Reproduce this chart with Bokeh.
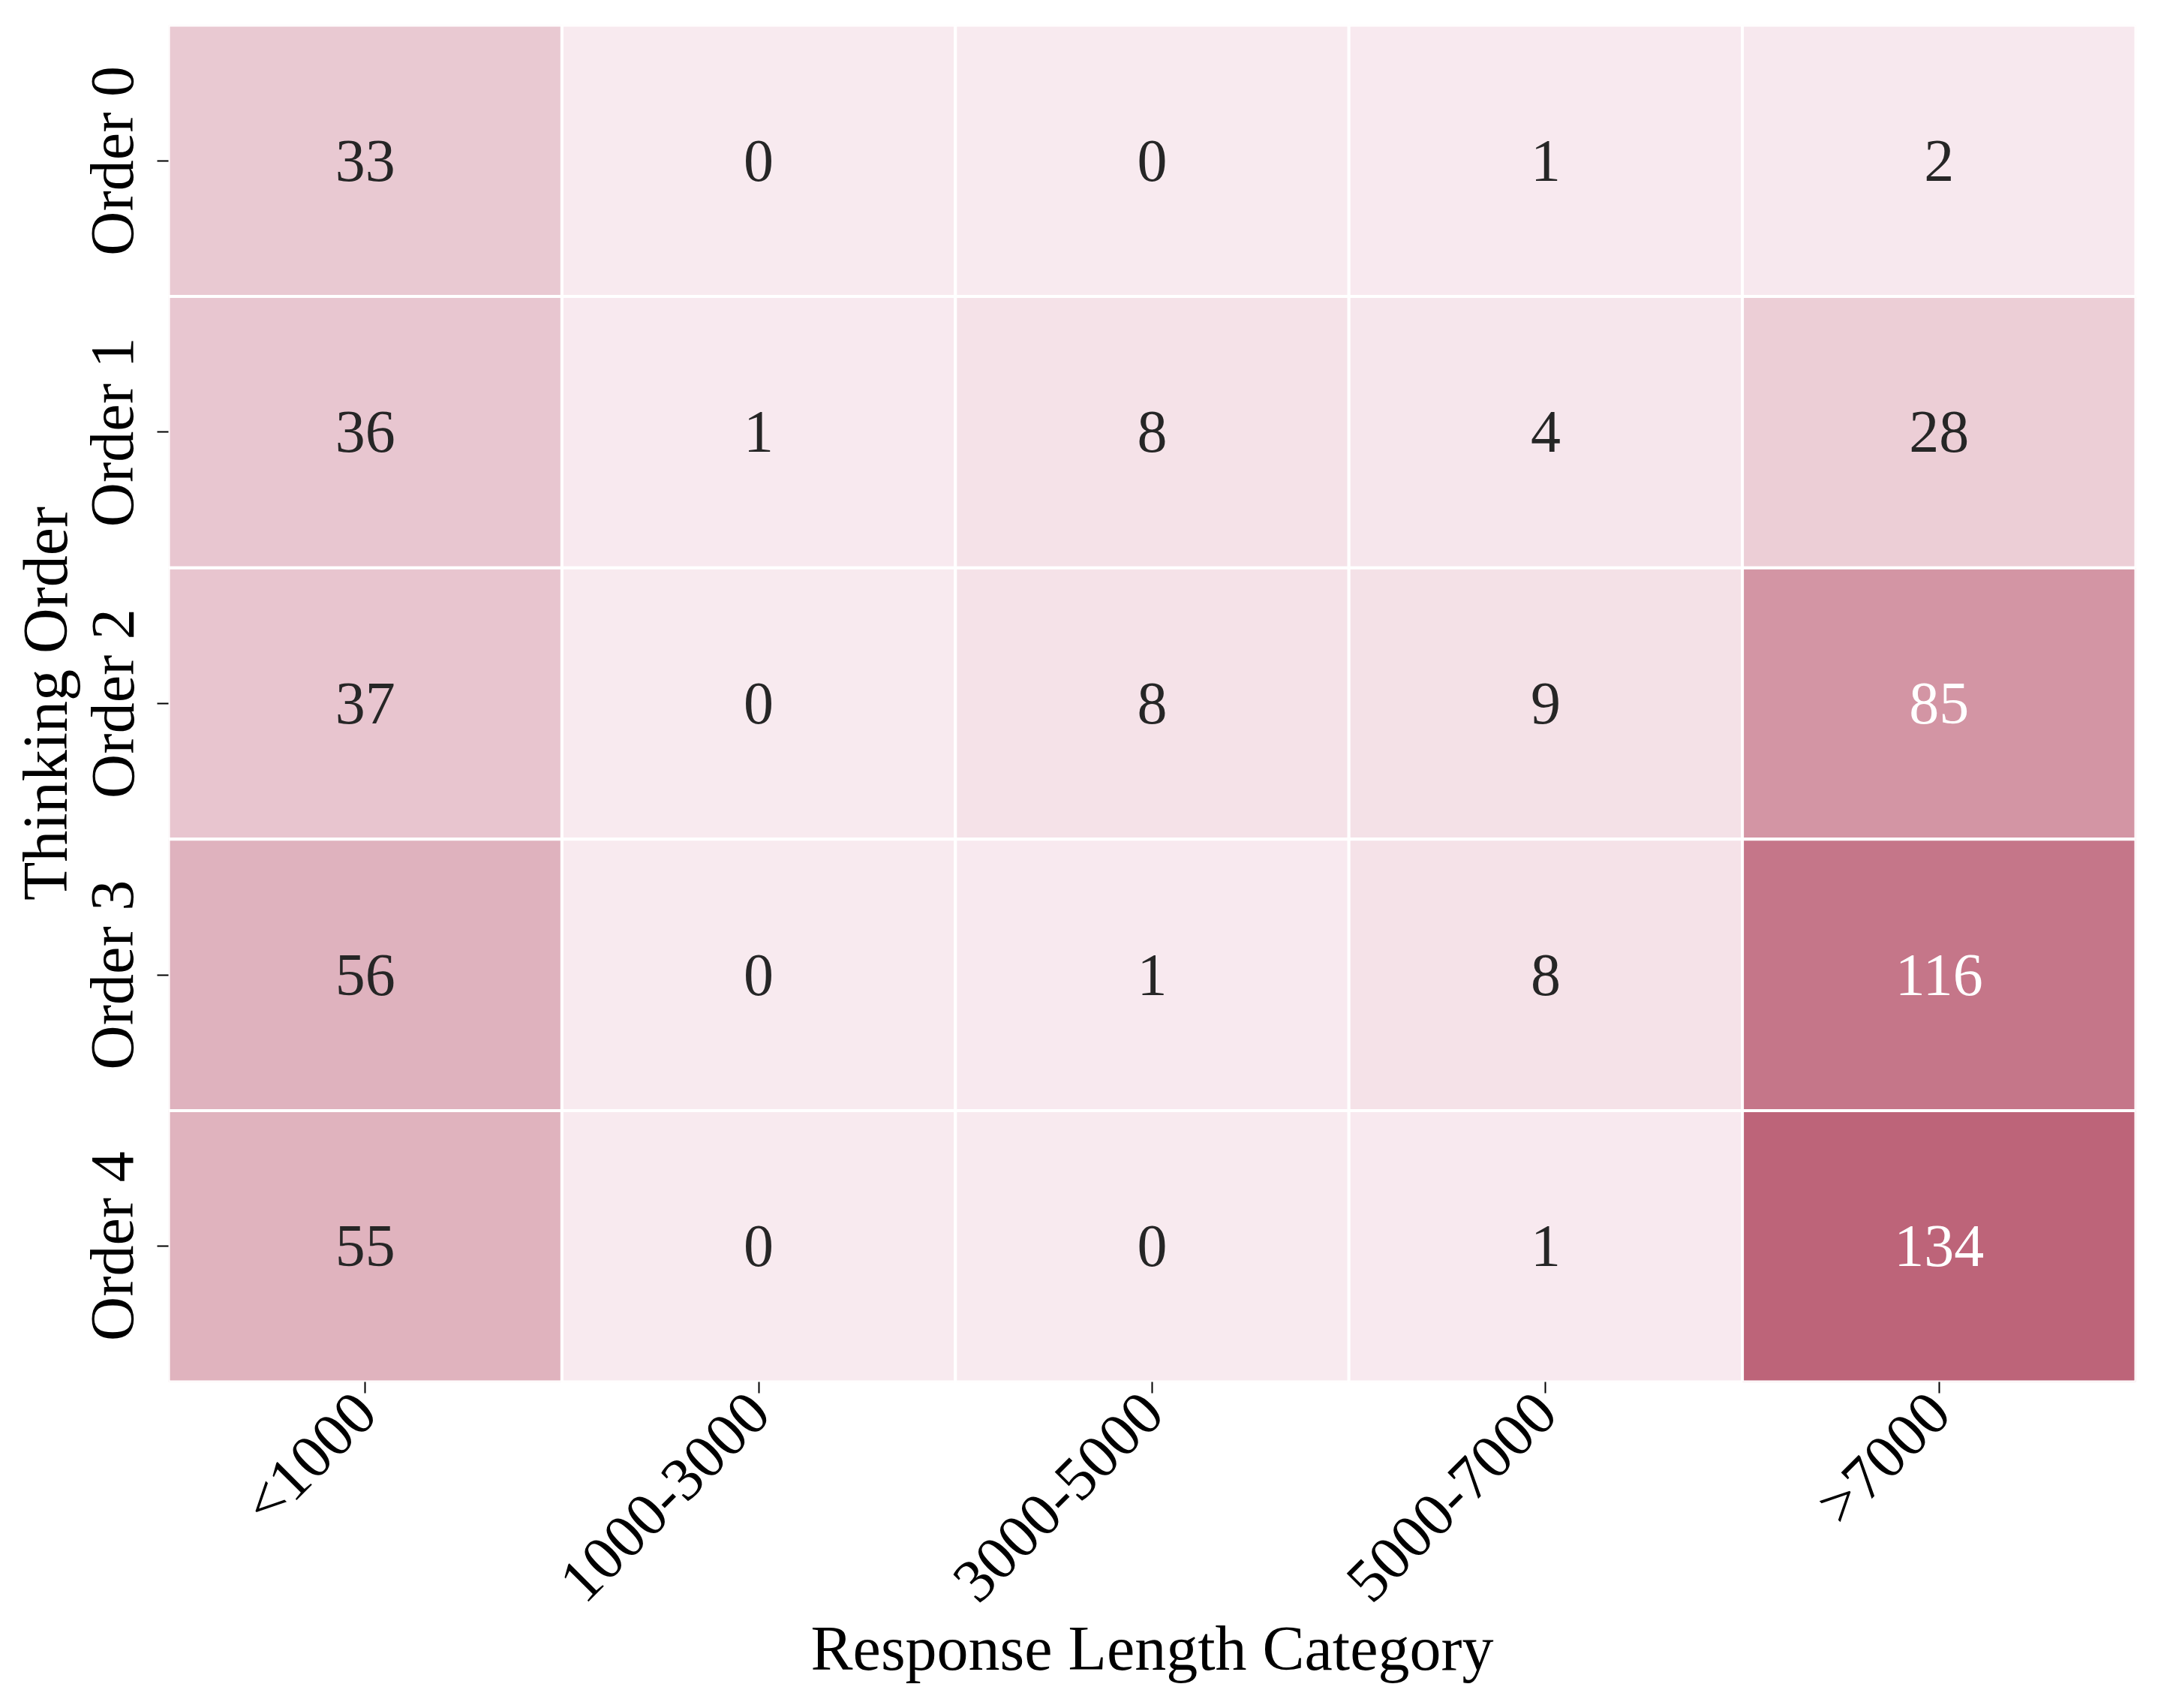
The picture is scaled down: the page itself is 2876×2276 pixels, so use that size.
import numpy as np
from bokeh.plotting import figure
from bokeh.models import ColumnDataSource, LinearColorMapper, FactorRange
from bokeh.transform import transform
from bokeh.core.properties import value
from bokeh.embed import file_html
from bokeh.resources import INLINE

# ---- data ----
length_categories = ["<1000", "1000-3000", "3000-5000", "5000-7000", ">7000"]
thinking_orders = ["Order 0", "Order 1", "Order 2", "Order 3", "Order 4"]
order0 = [33, 0, 0, 1, 2]
order1 = [36, 1, 8, 4, 28]
order2 = [37, 0, 8, 9, 85]
order3 = [56, 0, 1, 8, 116]
order4 = [55, 0, 0, 1, 134]
rows = [order0, order1, order2, order3, order4]

# ---- colour palette (light pink -> dusty rose) ----
low_rgb = np.array([248, 234, 239])
high_rgb = np.array([189, 100, 121])
palette = []
for t in np.linspace(0, 1, 256):
    c = low_rgb + (high_rgb - low_rgb) * t
    palette.append("#%02x%02x%02x" % tuple(int(round(v)) for v in c))

all_vals = [v for r in rows for v in r]
vmin, vmax = min(all_vals), max(all_vals)
mapper = LinearColorMapper(palette=palette, low=vmin, high=vmax)

xs, ys, vals, labels, tcolors = [], [], [], [], []
for order, r in zip(thinking_orders, rows):
    for cat, v in zip(length_categories, r):
        xs.append(cat)
        ys.append(order)
        vals.append(v)
        labels.append(str(v))
        idx = int(round((v - vmin) / (vmax - vmin) * 255))
        col = palette[idx]
        rgb = [int(col[i:i + 2], 16) / 255 for i in (1, 3, 5)]
        lin = [c / 12.92 if c <= 0.03928 else ((c + 0.055) / 1.055) ** 2.4 for c in rgb]
        lum = 0.2126 * lin[0] + 0.7152 * lin[1] + 0.0722 * lin[2]
        tcolors.append("#262626" if lum > 0.408 else "white")

src = ColumnDataSource(dict(x=xs, y=ys, v=vals, label=labels, tc=tcolors))

p = figure(
    width=2860, height=2260,
    x_range=FactorRange(*length_categories),
    y_range=FactorRange(*reversed(thinking_orders)),
    output_backend="svg", toolbar_location=None,
    min_border_left=224, min_border_right=14,
    min_border_top=33, min_border_bottom=419,
)
p.rect(x="x", y="y", width=1, height=1, source=src,
       fill_color=transform("v", mapper), line_color="white", line_width=4)
p.text(x="x", y="y", text="label", source=src,
       text_align="center", text_baseline="middle",
       text_font=value("Liberation Serif"), text_font_size=value("80px"),
       text_color="tc")

p.grid.visible = False
p.outline_line_color = None
p.background_fill_color = "white"
p.x_range.range_padding = 0
p.y_range.range_padding = 0

for ax in (p.xaxis, p.yaxis):
    ax.axis_line_color = None
    ax.major_tick_in = 0
    ax.major_tick_out = 15
    ax.major_tick_line_width = 2
    ax.major_tick_line_color = "black"
    ax.minor_tick_line_color = None
    ax.major_label_text_font = "Liberation Serif"
    ax.major_label_text_font_size = "82px"
    ax.major_label_text_color = "black"
    ax.axis_label_text_font = "Liberation Serif"
    ax.axis_label_text_font_size = "84px"
    ax.axis_label_text_font_style = "normal"
    ax.axis_label_text_color = "black"

p.xaxis.axis_label = "Response Length Category"
p.yaxis.axis_label = "Thinking Order"
p.xaxis.major_label_orientation = np.pi / 4
p.yaxis.major_label_orientation = "parallel"
p.xaxis.major_label_standoff = 12
p.yaxis.major_label_standoff = 14
p.xaxis.axis_label_standoff = -37
p.yaxis.axis_label_standoff = -5

open("out.html", "w").write(file_html(p, INLINE))
